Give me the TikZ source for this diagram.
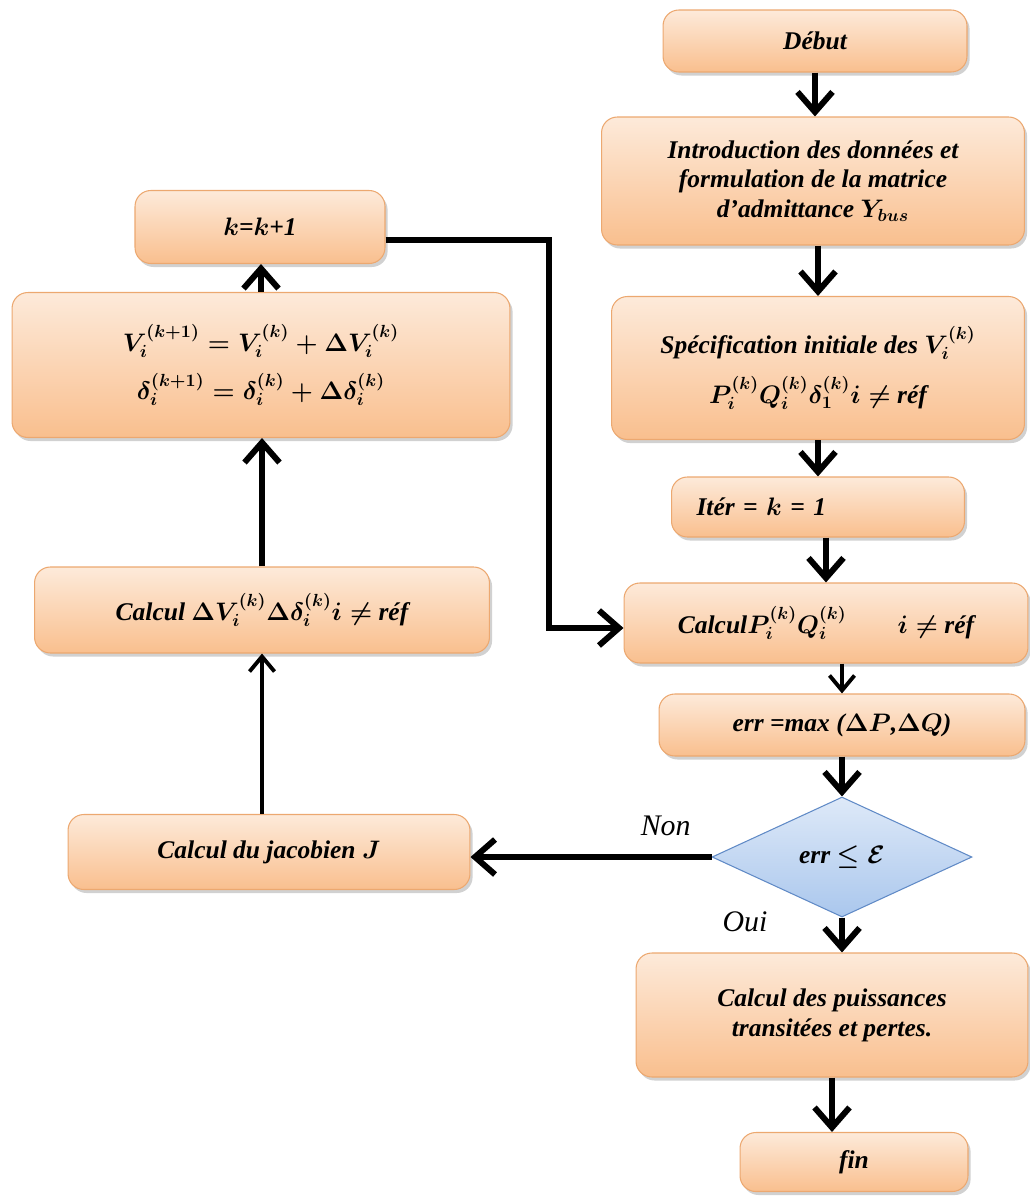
\documentclass[tikz,border=0pt]{standalone}
\usepackage{fontspec}
\setmainfont{Liberation Serif}
\usetikzlibrary{shapes.geometric,shadows,arrows.meta}

\definecolor{peachtop}{RGB}{253,234,218}
\definecolor{peachbot}{RGB}{249,191,142}
\definecolor{peachline}{RGB}{236,168,112}
\definecolor{bluetop}{RGB}{222,233,248}
\definecolor{bluebot}{RGB}{170,199,237}
\definecolor{blueline}{RGB}{96,138,198}

\begin{document}
\begin{tikzpicture}[x=0.02cm,y=-0.02cm,
  box/.style={rectangle,rounded corners=9pt,draw=peachline,line width=0.6pt,
    top color=peachtop,bottom color=peachbot,
    drop shadow={shadow xshift=1.5pt,shadow yshift=-2pt,opacity=0.3,fill=black!60},
    font=\fontsize{14.5}{17}\selectfont\bfseries\itshape\boldmath,
    align=center,inner sep=2pt},
  test/.style={diamond,aspect=2.17,draw=blueline,line width=0.6pt,
    top color=bluetop,bottom color=bluebot,inner sep=1pt,
    font=\fontsize{14.5}{17}\selectfont\bfseries\itshape\boldmath},
  lbl/.style={font=\fontsize{17}{20}\selectfont\itshape},
  flow/.style={-{Straight Barb[length=4mm,width=7mm]},line width=3.4pt},
  thinflow/.style={-{Straight Barb[length=3mm,width=5mm]},line width=2.2pt}]

  \useasboundingbox (0,0) rectangle (1030,1197);

  % right column
  \node[box,minimum width=6.08cm,minimum height=1.24cm] (debut) at (815,41) {Début};
  \node[box,minimum width=8.46cm,minimum height=2.56cm] (intro) at (813,181)
    {Introduction des données et\\ formulation de la matrice\\ d’admittance $Y_{bus}$};
  \node[box,minimum width=8.26cm,minimum height=2.86cm] (spec) at (818,368)
    {Spécification initiale des $V_i^{(k)}$\\[9pt] $P_i^{(k)}Q_i^{(k)}\delta_1^{(k)}i\neq$ réf};
  \node[box,minimum height=1.2cm,text width=4.86cm,inner xsep=0.5cm,align=left] (iter) at (818,507)
    {Itér = $k$ = 1};
  \node[box,minimum width=8.08cm,minimum height=1.6cm] (pq) at (826,623)
    {Calcul$P_i^{(k)}Q_i^{(k)}$\qquad $i\neq$ réf};
  \node[box,minimum width=7.32cm,minimum height=1.24cm] (err) at (842,725)
    {err =max ($\Delta P$,$\Delta Q$)};
  \node[test,minimum width=5.2cm,minimum height=2.4cm] (dia) at (842,857)
    {err $\leq\mathcal{E}$};
  \node[box,minimum width=7.84cm,minimum height=2.48cm] (puis) at (832,1015)
    {Calcul des puissances\\ transitées et pertes.};
  \node[box,minimum width=4.56cm,minimum height=1.18cm] (fin) at (854,1162) {fin};

  % left column
  \node[box,minimum width=5cm,minimum height=1.46cm] (kk) at (260,227) {$k$=$k$+1};
  \node[box,minimum width=9.96cm,minimum height=2.9cm] (vupd) at (261,365)
    {$V_i^{(k+1)}=V_i^{(k)}+\Delta V_i^{(k)}$\\[8pt]
     $\delta_i^{(k+1)}=\delta_i^{(k)}+\Delta\delta_i^{(k)}$};
  \node[box,minimum width=9.1cm,minimum height=1.72cm] (dv) at (262,610)
    {Calcul $\Delta V_i^{(k)}\Delta\delta_i^{(k)}i\neq$ réf};
  \node[box,minimum width=8.04cm,minimum height=1.5cm] (jac) at (269,852)
    {Calcul du jacobien $J$};

  \coordinate (bend) at (549,628);
  \node[lbl] (oui) at (745,922) {Oui};

  % main flow
  \draw[flow] (debut.south) -- (debut.south |- intro.north);
  \draw[flow] (intro.south -| spec) -- (spec.north);
  \draw[flow] (spec.south -| iter) -- (iter.north);
  \draw[flow] (iter.south -| pq) -- (pq.north);
  \draw[thinflow] (pq.south -| err) -- (err.north);
  \draw[flow] (err.south) -- (dia.north);
  \draw[flow] (dia.south) -- (dia.south |- puis.north);
  \draw[flow] (puis.south) -- (puis.south |- fin.north);

  % loop back
  \draw[flow] (dia.west) -- (dia.west -| jac.east)
    node[lbl,pos=0.19,above=7pt] {Non};
  \draw[thinflow] (jac.north -| dv) -- (dv.south);
  \draw[flow] (dv.north) -- (dv.north |- vupd.south);
  \draw[flow] (vupd.north) -- (vupd.north |- kk.south);
  \draw[flow] ([yshift=-0.26cm]kk.east) -| (bend) -- (bend -| pq.west);
\end{tikzpicture}
\end{document}
